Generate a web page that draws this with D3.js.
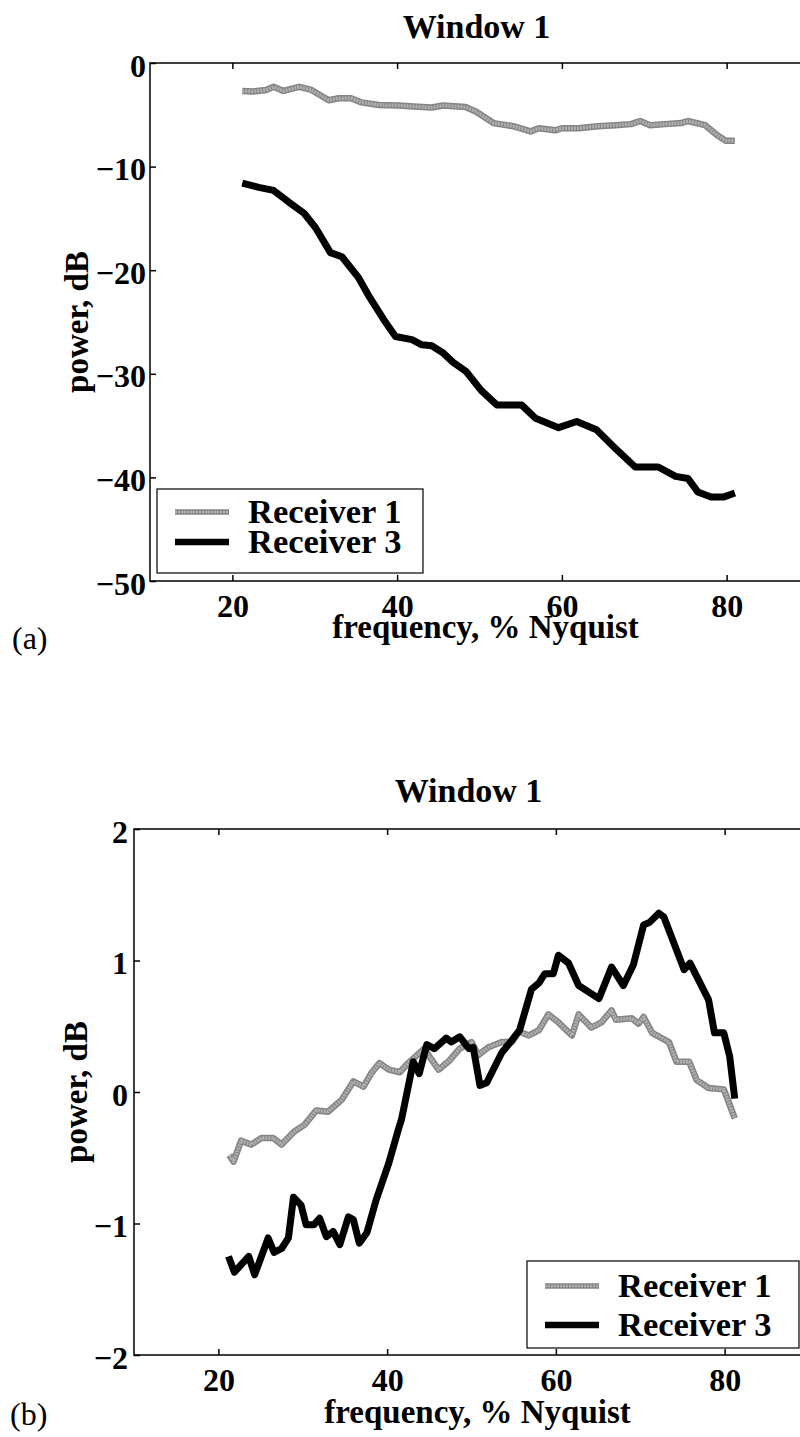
<!DOCTYPE html>
<html>
<head>
<meta charset="utf-8">
<script src="https://cdn.jsdelivr.net/npm/d3@7"></script>
<style>
  body { margin: 0; background: #fff; }
  svg text { font-family: "Liberation Serif", "Times New Roman", serif; }
</style>
</head>
<body>
<svg id="chart" width="800" height="1437"></svg>
<script>
// ---- data ----
var seriesNames = ["Receiver 1", "Receiver 3"];
var xTicks = [20, 40, 60, 80];
var yTicksA = [0, -10, -20, -30, -40, -50];
var yTicksB = [2, 1, 0, -1, -2];

// panel (a)
var freqA1 = [21.2,22.5,24.1,25.0,26.2,28.1,29.6,31.7,32.9,34.4,35.6,37.8,40.2,42.0,44.2,45.6,48.3,49.6,51.7,54.1,56.2,57.2,59.2,60.0,62.0,64.4,66.5,68.4,69.5,70.7,72.5,74.5,75.3,77.4,78.9,79.9,81.0];
var powerA1 = [-2.7,-2.75,-2.6,-2.3,-2.7,-2.3,-2.6,-3.6,-3.4,-3.4,-3.8,-4.05,-4.1,-4.2,-4.3,-4.1,-4.25,-4.7,-5.8,-6.1,-6.6,-6.3,-6.5,-6.3,-6.3,-6.1,-6.0,-5.9,-5.6,-6.0,-5.9,-5.8,-5.6,-6.0,-7.0,-7.5,-7.5];
var freqA3 = [21.2,23.2,25.0,26.8,28.7,30.1,31.9,33.3,35.3,36.5,38.4,39.8,41.8,43.0,44.2,45.6,46.8,48.4,50.2,52.1,55.1,56.8,59.6,61.8,64.2,66.5,68.9,71.7,73.8,75.3,76.5,78.1,79.6,81.0];
var powerA3 = [-11.6,-12.0,-12.3,-13.4,-14.5,-15.9,-18.3,-18.7,-20.7,-22.4,-24.8,-26.4,-26.7,-27.2,-27.3,-28.0,-28.9,-29.8,-31.6,-33.0,-33.0,-34.3,-35.2,-34.6,-35.4,-37.2,-39.0,-39.0,-39.9,-40.1,-41.4,-41.9,-41.9,-41.5];

// panel (b)
var freqB1 = [21.3,21.8,22.7,23.9,25.1,26.5,27.5,29.0,30.2,31.6,33.0,34.6,36.0,37.2,38.1,39.1,40.2,41.5,42.5,44.4,45.0,46.1,47.4,48.6,50.0,50.8,52.0,53.6,54.8,55.6,56.8,58.0,59.1,60.3,61.9,62.7,64.2,65.4,66.6,67.1,69.0,69.8,70.4,71.4,73.4,74.3,75.8,76.7,78.1,79.9,80.5,81.2];
var powerB1 = [-0.48,-0.53,-0.37,-0.40,-0.35,-0.35,-0.40,-0.30,-0.25,-0.14,-0.15,-0.06,0.08,0.04,0.14,0.22,0.17,0.15,0.22,0.33,0.27,0.17,0.24,0.33,0.38,0.28,0.34,0.38,0.38,0.46,0.43,0.47,0.59,0.53,0.43,0.59,0.49,0.53,0.62,0.55,0.56,0.52,0.57,0.45,0.38,0.23,0.23,0.09,0.03,0.02,-0.08,-0.20];
var freqB3 = [21.2,21.9,23.6,24.3,25.9,26.6,27.5,28.3,28.9,29.8,30.4,31.3,32.0,32.8,33.6,34.4,35.4,36.0,36.7,37.6,38.7,40.2,41.4,41.7,43.1,43.8,44.7,45.6,47.0,47.6,48.6,49.7,50.2,51.0,51.8,53.6,54.5,55.7,57.1,58.0,58.7,59.7,60.3,61.5,62.7,65.1,66.6,68.0,69.2,70.4,71.1,72.2,72.8,75.2,75.9,78.1,78.8,79.9,80.6,81.2];
var powerB3 = [-1.25,-1.37,-1.25,-1.39,-1.11,-1.22,-1.19,-1.11,-0.80,-0.86,-1.01,-1.01,-0.96,-1.10,-1.06,-1.16,-0.95,-0.97,-1.15,-1.07,-0.82,-0.54,-0.27,-0.21,0.23,0.14,0.36,0.33,0.41,0.38,0.42,0.33,0.34,0.05,0.07,0.30,0.37,0.47,0.78,0.83,0.90,0.90,1.04,0.98,0.81,0.71,0.95,0.81,0.97,1.27,1.29,1.36,1.33,0.93,0.98,0.70,0.45,0.45,0.27,-0.05];

var svg = d3.select("#chart");
var tickSize = 32, titleSize = 34, labelSize = 33, legendSize = 34.5;

function drawGray(g, pathD, w) {
  g.append("path").attr("d", pathD).attr("fill", "none")
    .attr("stroke", "#858585").attr("stroke-width", w).attr("stroke-linejoin", "round");
  g.append("path").attr("d", pathD).attr("fill", "none")
    .attr("stroke", "#b0b0b0").attr("stroke-width", w - 3).attr("stroke-linejoin", "round")
    .attr("stroke-dasharray", "2,1");
}

function bold(sel) { return sel.style("font-weight", "bold"); }

function drawPanel(p) {
  var x = d3.scaleLinear().domain([10, 90]).range([p.left, p.right]);
  var y = d3.scaleLinear().domain([p.yTicks[p.yTicks.length - 1], p.yTicks[0]]).range([p.bottom, p.top]);
  var g = svg.append("g");

  // frame
  g.append("rect")
    .attr("x", p.left).attr("y", p.top)
    .attr("width", p.right - p.left).attr("height", p.bottom - p.top)
    .attr("fill", "none").attr("stroke", "#000").attr("stroke-width", 1.5);

  // bottom axis, ticks pointing in
  var gx = g.append("g").attr("transform", "translate(0," + p.bottom + ")")
    .call(d3.axisBottom(x).tickValues(xTicks).tickSizeInner(-6).tickSizeOuter(0).tickFormat(d3.format("d")));
  gx.select(".domain").remove();
  gx.selectAll("line").attr("stroke-width", 1.5);
  bold(gx.selectAll("text").attr("y", 36).attr("dy", null)
    .attr("font-size", tickSize).attr("fill", "#000"));
  gx.attr("font-family", null).attr("font-size", null);

  // top ticks
  var gt = g.append("g").attr("transform", "translate(0," + p.top + ")")
    .call(d3.axisTop(x).tickValues(xTicks).tickSizeInner(-6).tickSizeOuter(0).tickFormat(""));
  gt.select(".domain").remove();
  gt.selectAll("line").attr("stroke-width", 1.5);

  // left axis
  var gy = g.append("g").attr("transform", "translate(" + p.left + ",0)")
    .call(d3.axisLeft(y).tickValues(p.yTicks).tickSizeInner(-6).tickSizeOuter(0).tickFormat(d3.format("d")));
  gy.select(".domain").remove();
  gy.selectAll("line").attr("stroke-width", 1.5);
  bold(gy.selectAll("text").attr("x", -p.yLabelGap).attr("dy", 13)
    .attr("font-size", tickSize).attr("fill", "#000"));
  gy.attr("font-family", null).attr("font-size", null);

  // right ticks
  var gr = g.append("g").attr("transform", "translate(" + p.right + ",0)")
    .call(d3.axisRight(y).tickValues(p.yTicks).tickSizeInner(-6).tickSizeOuter(0).tickFormat(""));
  gr.select(".domain").remove();

  // lines
  var line = d3.line().x(function(d) { return x(d[0]); }).y(function(d) { return y(d[1]); });
  drawGray(g, line(d3.zip(p.f1, p.v1)), 6.5);
  g.append("path").attr("d", line(d3.zip(p.f3, p.v3)))
    .attr("fill", "none").attr("stroke", "#000").attr("stroke-width", 7)
    .attr("stroke-linejoin", "round");

  // title and labels
  bold(g.append("text").attr("x", (p.left + p.right) / 2 - 3).attr("y", p.titleY)
    .attr("text-anchor", "middle").attr("font-size", titleSize).text("Window 1"));
  bold(g.append("text").attr("x", (p.left + p.right) / 2 + 6).attr("y", p.xLabelY)
    .attr("text-anchor", "middle").attr("font-size", labelSize).text("frequency, % Nyquist"));
  bold(g.append("text")
    .attr("transform", "translate(" + p.yLabelX + "," + (p.top + p.bottom) / 2 + ") rotate(-90)")
    .attr("text-anchor", "middle").attr("font-size", labelSize).text("power, dB"));
  g.append("text").attr("x", p.tagX).attr("y", p.tagY)
    .attr("font-size", 32).style("font-weight", "normal").text(p.tag);

  // legend
  var L = p.legend;
  var lg = g.append("g").attr("transform", "translate(" + L.x + "," + L.y + ")");
  lg.append("rect").attr("width", L.w).attr("height", L.h)
    .attr("fill", "#fff").attr("stroke", "#000").attr("stroke-width", 1.2);
  drawGray(lg, d3.line()([[18, L.row1], [72, L.row1]]), 5.5);
  lg.append("path").attr("d", d3.line()([[18, L.row2], [72, L.row2]]))
    .attr("stroke", "#000").attr("stroke-width", 6.5);
  bold(lg.selectAll("text.leg").data(seriesNames).enter().append("text")
    .attr("class", "leg")
    .attr("x", 91)
    .attr("y", function(d, i) { return (i === 0 ? L.row1 : L.row2) + 11; })
    .attr("font-size", legendSize)
    .text(function(d) { return d; }));
}

drawPanel({
  left: 150, right: 809, top: 63, bottom: 581,
  yTicks: yTicksA, yLabelGap: 4,
  f1: freqA1, v1: powerA1, f3: freqA3, v3: powerA3,
  titleY: 38, xLabelY: 638, yLabelX: 88,
  tag: "(a)", tagX: 12, tagY: 649,
  legend: { x: 157, y: 489, w: 266, h: 84, row1: 23, row2: 53 }
});

drawPanel({
  left: 134, right: 809, top: 829, bottom: 1355,
  yTicks: yTicksB, yLabelGap: 6,
  f1: freqB1, v1: powerB1, f3: freqB3, v3: powerB3,
  titleY: 802, xLabelY: 1423, yLabelX: 87,
  tag: "(b)", tagX: 10, tagY: 1425,
  legend: { x: 527, y: 1261, w: 272, h: 87, row1: 25, row2: 64 }
});
</script>
</body>
</html>
